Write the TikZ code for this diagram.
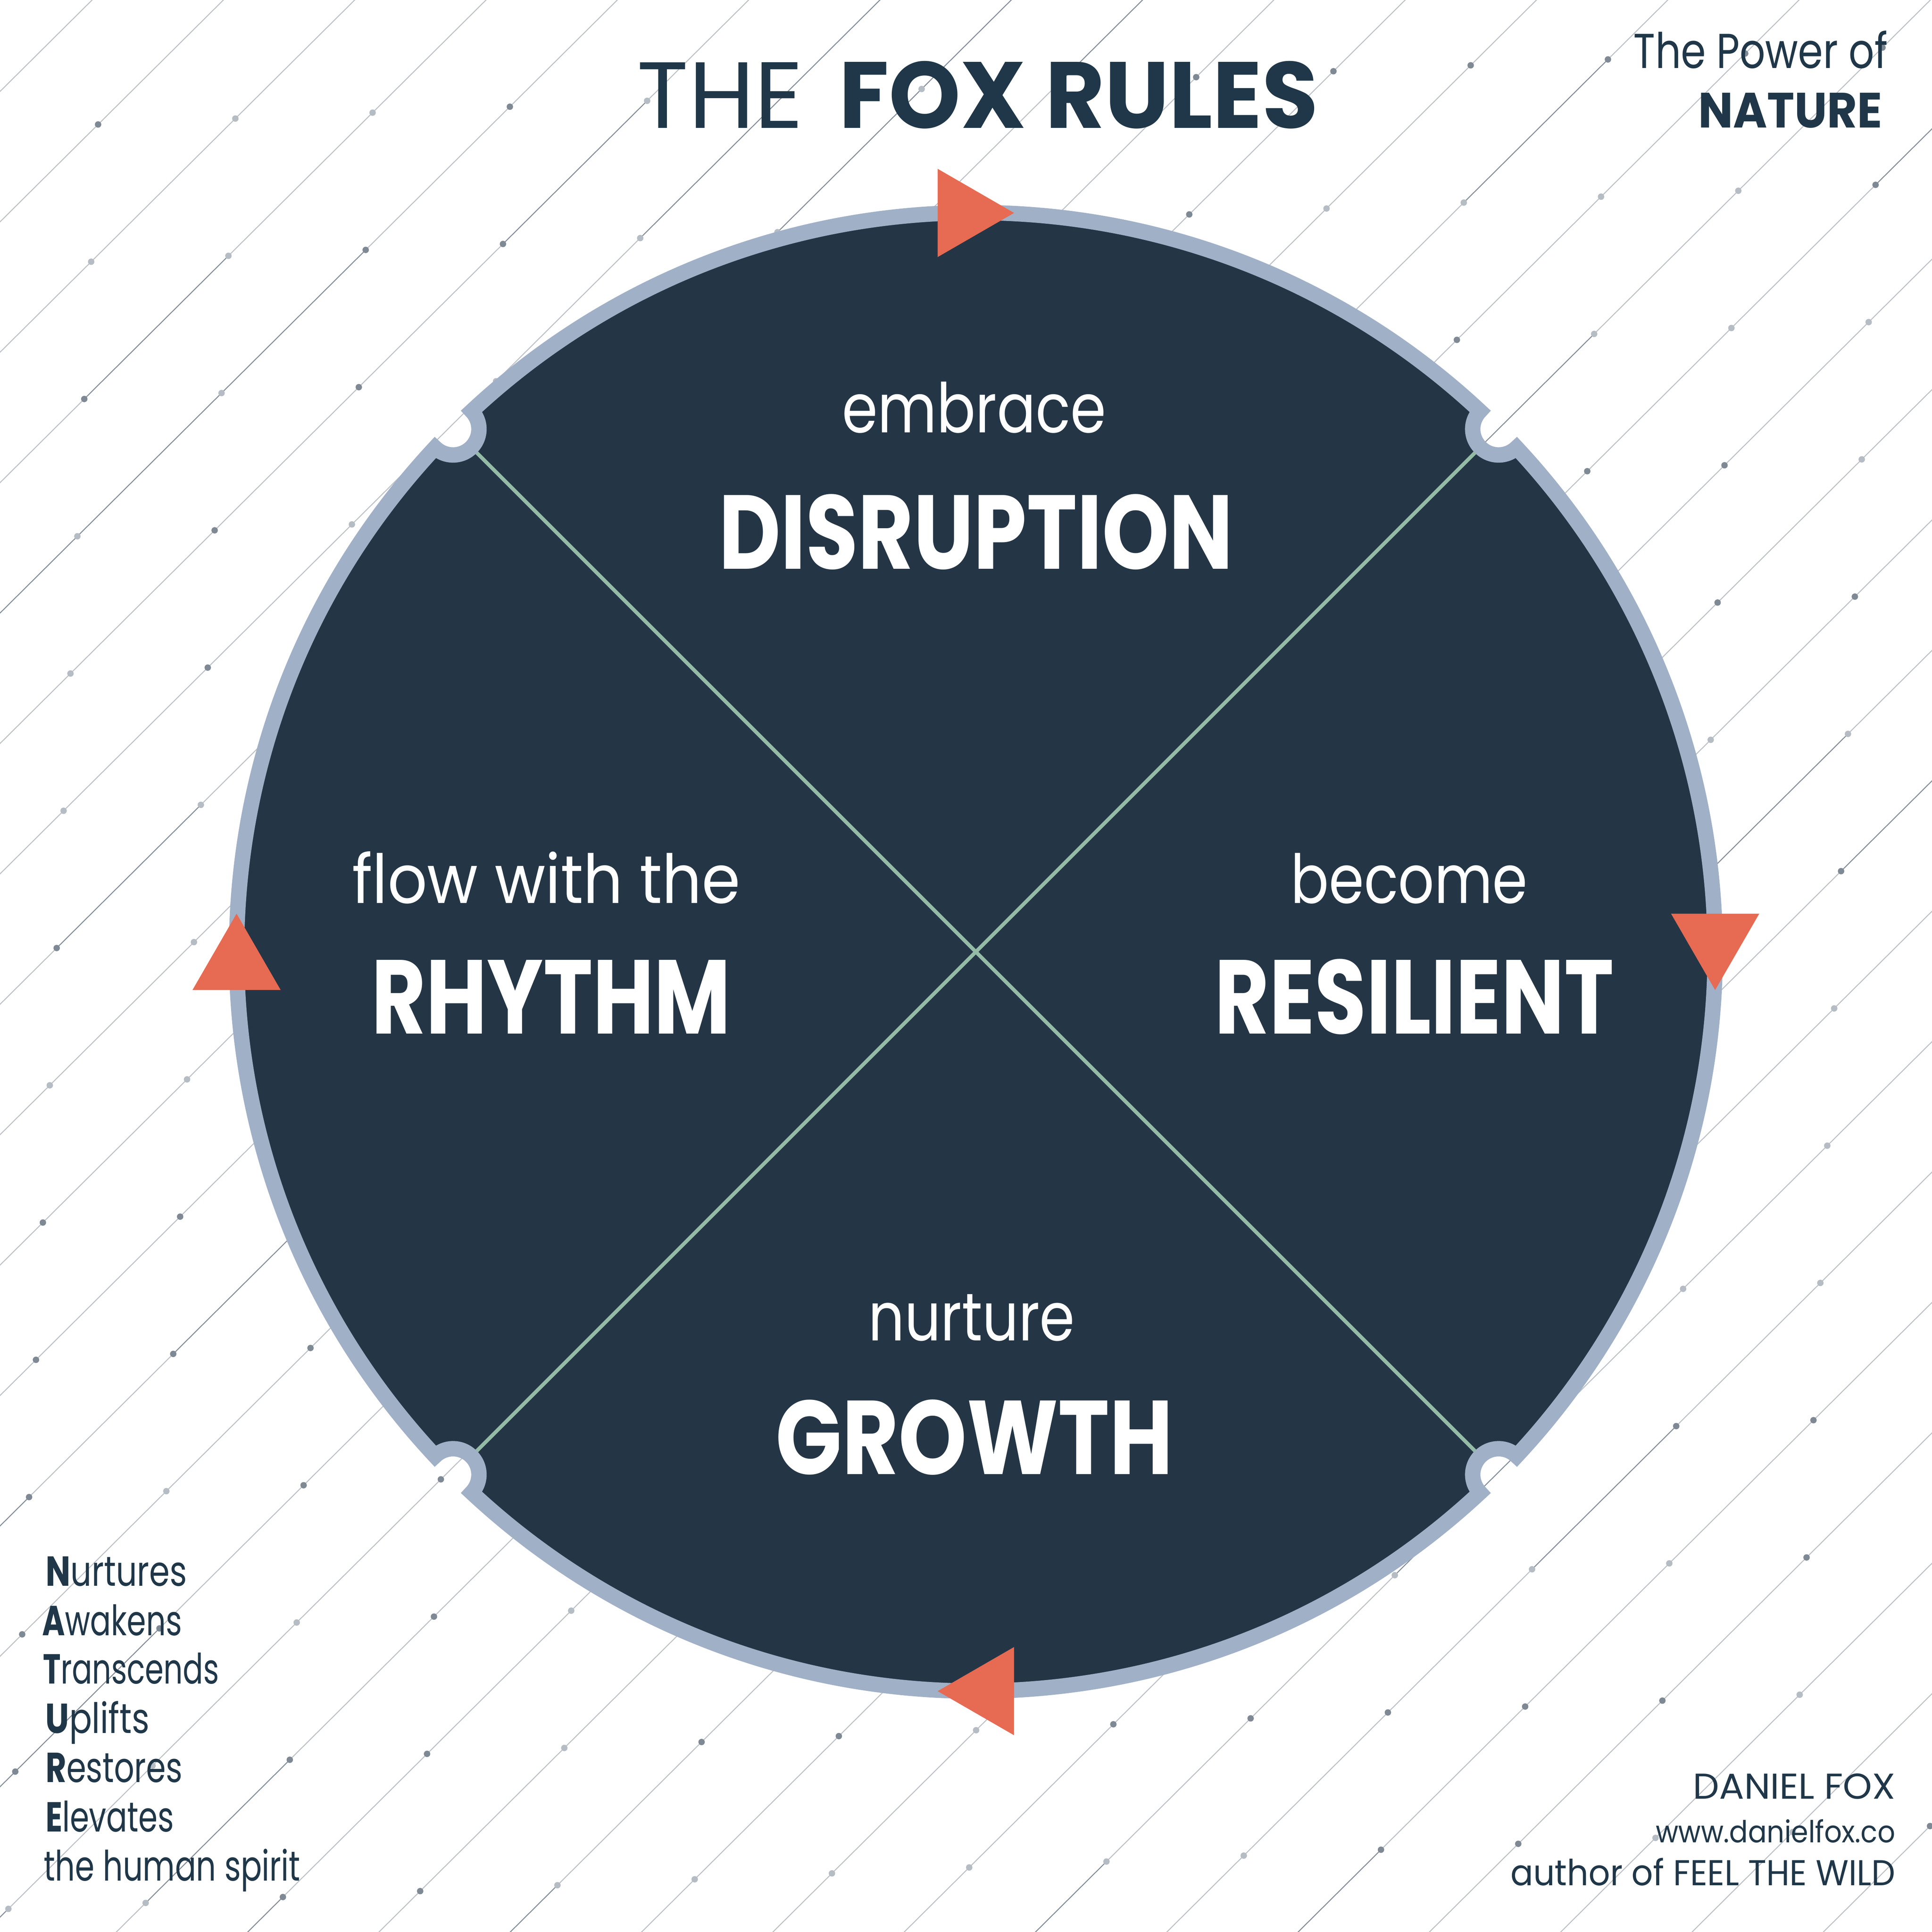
\documentclass[tikz,border=0pt]{standalone}
\usepackage{fontspec}
\setmainfont{Poppins}
\usepackage{graphicx}
\definecolor{navy}{HTML}{243646}
\definecolor{ringc}{HTML}{A0B0C7}
\definecolor{arrowc}{HTML}{E76A52}
\definecolor{greenl}{HTML}{93BBA5}
\definecolor{textc}{HTML}{1F3748}
\definecolor{bglight}{HTML}{BCC1C7}
\definecolor{bgdark}{HTML}{838D99}
\definecolor{dotlight}{HTML}{B5BCC3}
\definecolor{dotdark}{HTML}{7E8994}
\newcommand\fitbox[4]{\resizebox{#1mm}{#2mm}{\vphantom{#3}\smash{#4}}}
\begin{document}
\begin{tikzpicture}[x=0.01cm,y=0.01cm,
  txt/.style={inner sep=0pt,outer sep=0pt,text=textc},
  wtxt/.style={inner sep=0pt,outer sep=0pt,text=white},
  bgline/.style={line width=0.22pt},
  ringline/.style={draw=ringc,line width=1.25mm},
  pointer/.style={fill=arrowc},
  divider/.style={draw=greenl,line width=0.3mm}]
\useasboundingbox (0,0) rectangle (1568,-1568);
\fill[white] (0,0) rectangle (1568,-1568);
% background pattern
\begin{scope}
\clip (0,0) rectangle (1568,-1568);
\pgfmathsetseed{42}
\foreach \i in {-2,...,15}{
  \foreach \j in {-2,...,16}{
    \pgfmathsetmacro\xx{79.6+111.4*\i-5.6*\j}
    \pgfmathsetmacro\yy{-(101-4.8*\i+111.4*\j)}
    \pgfmathtruncatemacro\sd{rnd<0.2}
    \ifnum\sd=1 \def\sc{bgdark}\else\def\sc{bglight}\fi
    \draw[bgline,draw=\sc] (\xx,\yy) -- ++(117,116.2);
  }}
\foreach \i in {-2,...,15}{
  \foreach \j in {-2,...,16}{
    \pgfmathsetmacro\xx{79.6+111.4*\i-5.6*\j}
    \pgfmathsetmacro\yy{-(101-4.8*\i+111.4*\j)}
    \pgfmathtruncatemacro\sd{rnd<0.4}
    \ifnum\sd=1 \def\sc{dotdark}\else\def\sc{dotlight}\fi
    \fill[\sc] (\xx,\yy) circle (2.6);
  }}
\end{scope}
% circle
\coordinate (O) at (792,-772.5);
\pgfmathsetmacro\dd{2*asin(21/1200)}
\pgfmathsetmacro\hd{\dd/2}
\fill[navy] (O) ++(0:600) arc (0:45-\dd:600) arc (-45-\hd:-225+\hd:21)
  arc (45+\dd:135-\dd:600) arc (45-\hd:-135+\hd:21)
  arc (135+\dd:225-\dd:600) arc (135-\hd:-45+\hd:21)
  arc (225+\dd:315-\dd:600) arc (225-\hd:45+\hd:21)
  arc (315+\dd:360:600) -- cycle;
\coordinate (ne) at ([shift={(45:579)}]O);
\coordinate (nw) at ([shift={(135:579)}]O);
\coordinate (sw) at ([shift={(225:579)}]O);
\coordinate (se) at ([shift={(315:579)}]O);
\draw[divider] (ne) -- (sw);
\draw[divider] (nw) -- (se);
\draw[ringline] (O) ++(0:600) arc (0:45-\dd:600) arc (-45-\hd:-225+\hd:21)
  arc (45+\dd:135-\dd:600) arc (45-\hd:-135+\hd:21)
  arc (135+\dd:225-\dd:600) arc (135-\hd:-45+\hd:21)
  arc (225+\dd:315-\dd:600) arc (225-\hd:45+\hd:21)
  arc (315+\dd:360:600) -- cycle;
% direction markers
\fill[pointer] (761,-137) -- (823,-172.8) -- (761,-208.6) -- cycle;
\fill[pointer] (1356.2,-741.5) -- (1427.8,-741.5) -- (1392,-803.5) -- cycle;
\fill[pointer] (823,-1336.7) -- (823,-1408.3) -- (761,-1372.5) -- cycle;
\fill[pointer] (156.2,-803.5) -- (227.8,-803.5) -- (192,-741.5) -- cycle;
% title
\node[txt,anchor=base west] (title1) at (517,-103.8) {\fitbox{13.5}{5.32}{T}{THE}};
\node[txt,anchor=base west] (title2) at (681,-103.8) {\fitbox{38.85}{5.32}{T}{\bfseries FOX RULES}};
\node[txt,anchor=base east] (pow1) at (1532,-55.3) {\fitbox{20.6}{2.77}{T}{The Power of}};
\node[txt,anchor=base east] (pow2) at (1527.5,-103.6) {\fitbox{14.9}{2.8}{T}{\bfseries NATURE}};
% quadrant texts
\node[wtxt,anchor=base west] (q1a) at (683.5,-351.2) {\fitbox{21.41}{3.05}{x}{embrace}};
\node[wtxt,anchor=base west] (q1b) at (583.3,-461.8) {\fitbox{41.73}{5.94}{T}{\bfseries DISRUPTION}};
\node[wtxt,anchor=base west] (q2a) at (285.7,-732.9) {\fitbox{31.48}{3.01}{x}{flow with the}};
\node[wtxt,anchor=base west] (q2b) at (301.6,-838.9) {\fitbox{29.12}{5.94}{T}{\bfseries RHYTHM}};
\node[wtxt,anchor=base west] (q3a) at (1047.7,-732.9) {\fitbox{19.19}{3.01}{x}{become}};
\node[wtxt,anchor=base west] (q3b) at (985.8,-838.9) {\fitbox{32.39}{5.94}{T}{\bfseries RESILIENT}};
\node[wtxt,anchor=base west] (q4a) at (704.8,-1088) {\fitbox{16.74}{3.0}{x}{nurture}};
\node[wtxt,anchor=base west] (q4b) at (629.7,-1196.6) {\fitbox{32.22}{5.93}{T}{\bfseries GROWTH}};
% acrostic
\node[txt,anchor=base west] (n1) at (37.2,-1287.3) {\fitbox{11.44}{2.37}{T}{{\bfseries N}urtures}};
\node[txt,anchor=base west] (n2) at (34.3,-1327.3) {\fitbox{11.33}{2.37}{T}{{\bfseries A}wakens}};
\node[txt,anchor=base west] (n3) at (34.9,-1366.6) {\fitbox{14.27}{2.37}{T}{{\bfseries T}ranscends}};
\node[txt,anchor=base west] (n4) at (36.9,-1406.6) {\fitbox{8.43}{2.37}{T}{{\bfseries U}plifts}};
\node[txt,anchor=base west] (n5) at (37.2,-1446.6) {\fitbox{11.08}{2.37}{T}{{\bfseries R}estores}};
\node[txt,anchor=base west] (n6) at (37.2,-1486.5) {\fitbox{10.38}{2.37}{T}{{\bfseries E}levates}};
\node[txt,anchor=base west] (n7) at (35.6,-1526.5) {\fitbox{20.8}{2.37}{T}{the human spirit}};
% author
\node[txt,anchor=base east] (a1) at (1538.2,-1459.8) {\fitbox{16.4}{2.03}{T}{DANIEL FOX}};
\node[txt,anchor=base east] (a2) at (1538.2,-1495.4) {\fitbox{19.42}{1.35}{x}{www.danielfox.co}};
\node[txt,anchor=base east] (a3) at (1538.2,-1530.3) {\fitbox{31.2}{2.03}{T}{author of FEEL THE WILD}};
\end{tikzpicture}
\end{document}
